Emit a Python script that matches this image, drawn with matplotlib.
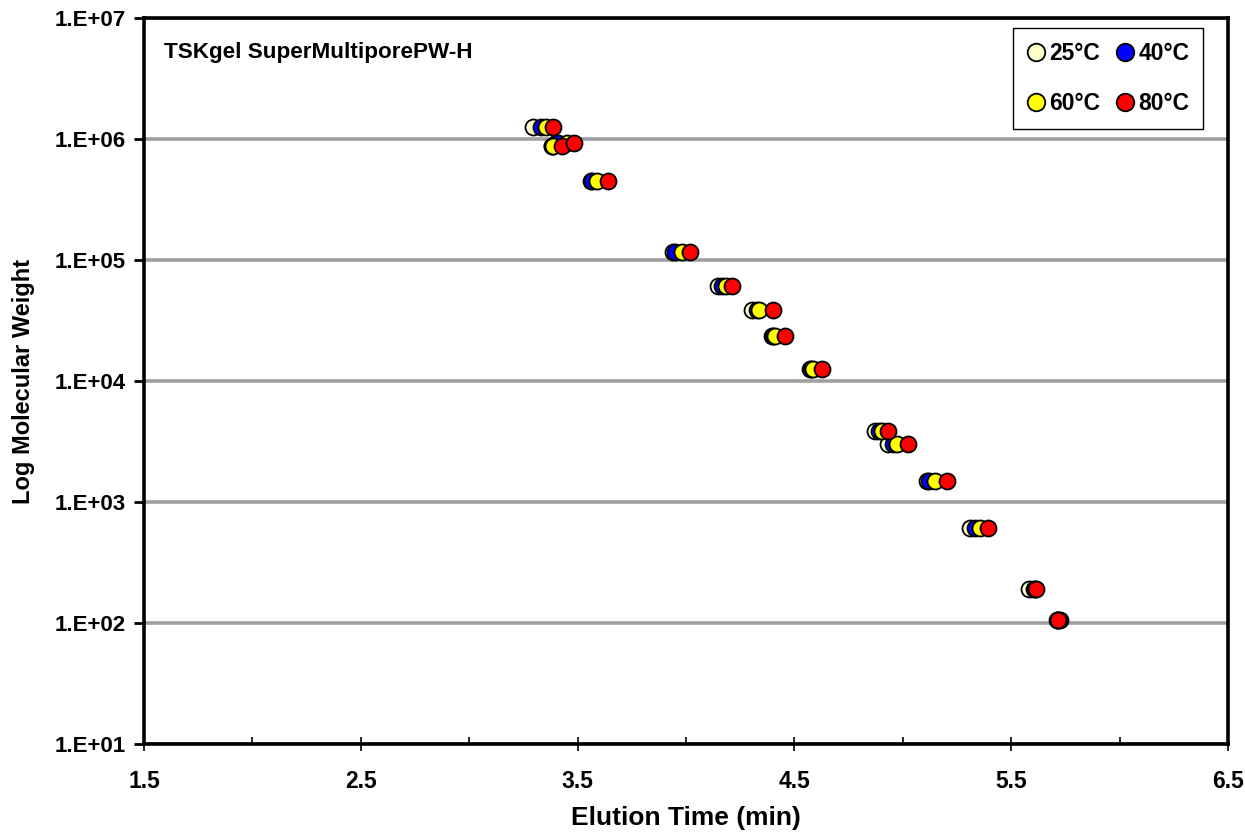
import numpy as np
import matplotlib.pyplot as plt
from matplotlib.ticker import FixedLocator, FixedFormatter, NullLocator

plt.rcParams['font.family'] = ['Liberation Sans', 'DejaVu Sans']
plt.rcParams['font.weight'] = 'bold'

# molecular weight of each standard (one row of points per standard)
mol_weight = [1.25e6, 8.8e5, 9.2e5, 4.5e5, 1.16e5, 6.1e4, 3.85e4, 2.35e4,
              1.25e4, 3.85e3, 3.0e3, 1.5e3, 6.1e2, 1.9e2, 1.05e2]

# elution times (min) at each temperature
time_25 = [3.294, 3.380, 3.400, 3.560, 3.940, 4.148, 4.304, 4.397,
           4.572, 4.872, 4.932, 5.112, 5.310, 5.582, 5.712]
time_40 = [3.330, 3.383, 3.410, 3.566, 3.949, 4.166, 4.327, 4.400,
           4.575, 4.890, 4.955, 5.120, 5.333, 5.605, 5.726]
time_60 = [3.354, 3.387, 3.451, 3.590, 3.981, 4.185, 4.338, 4.410,
           4.586, 4.904, 4.973, 5.149, 5.356, 5.610, 5.714]
time_80 = [3.387, 3.428, 3.484, 3.640, 4.018, 4.212, 4.400, 4.457,
           4.627, 4.932, 5.024, 5.204, 5.393, 5.614, 5.716]

series = [
    ("25°C", time_25, "#FFFFCC"),
    ("40°C", time_40, "#0000FF"),
    ("60°C", time_60, "#FFFF00"),
    ("80°C", time_80, "#FF0000"),
]

y_ticks = [1e1, 1e2, 1e3, 1e4, 1e5, 1e6, 1e7]
y_labels = ["1.E+01", "1.E+02", "1.E+03", "1.E+04", "1.E+05", "1.E+06", "1.E+07"]
x_ticks = [1.5, 2.5, 3.5, 4.5, 5.5, 6.5]

fig = plt.figure(figsize=(12.45, 8.35), dpi=100)
ax = fig.add_axes([0.1157, 0.109, 0.8706, 0.8694])

handles = []
for label, t, color in series:
    h, = ax.plot(t, mol_weight, ls="none", marker="o", ms=11.5, mfc=color,
                 mec="black", mew=1.3, label=label, zorder=3)
    handles.append(h)

ax.set_yscale("log")
ax.set_ylim(1e1, 1e7)
ax.set_xlim(1.5, 6.5)

ax.yaxis.set_major_locator(FixedLocator(y_ticks))
ax.yaxis.set_major_formatter(FixedFormatter(y_labels))
ax.yaxis.set_minor_locator(NullLocator())
ax.set_xticks(x_ticks)
ax.set_xticklabels([str(v) for v in x_ticks])
ax.set_xticks([2.0, 3.0, 4.0, 5.0, 6.0], minor=True)

ax.tick_params(axis="y", which="major", direction="out", length=7, width=2,
               labelsize=16, pad=6)
ax.tick_params(axis="x", which="major", direction="inout", length=10, width=1.2,
               labelsize=16.5, pad=14)
ax.tick_params(axis="x", which="minor", direction="in", length=5, width=1.2)

for lab in ax.get_xticklabels() + ax.get_yticklabels():
    lab.set_fontweight("bold")

ax.grid(axis="y", which="major", color="#A0A0A0", lw=2.6, zorder=1)
ax.set_axisbelow(True)

for sp in ax.spines.values():
    sp.set_linewidth(2.6)
    sp.set_color("black")

ax.set_xlabel("Elution Time (min)", fontsize=19, fontweight="bold", labelpad=9)
ax.set_ylabel("Log Molecular Weight", fontsize=17, fontweight="bold", labelpad=14)

ax.text(0.018, 0.953, "TSKgel SuperMultiporePW-H", transform=ax.transAxes,
        fontsize=16.2, fontweight="bold", va="center", ha="left")

# row 1: 25, 40 ; row 2: 60, 80
order = [0, 2, 1, 3]
leg = ax.legend([handles[i] for i in order], [series[i][0] for i in order],
                loc="upper right", ncol=2, bbox_to_anchor=(0.977, 0.986),
                borderaxespad=0, fancybox=False, edgecolor="black", framealpha=1,
                prop={"size": 16.5, "weight": "bold"}, handletextpad=0.2,
                columnspacing=0.65, labelspacing=1.2, borderpad=0.6,
                handlelength=0.8, markerscale=1.1)
leg.get_frame().set_linewidth(1.0)

fig.savefig("out.png", dpi=100)
plt.close(fig)
